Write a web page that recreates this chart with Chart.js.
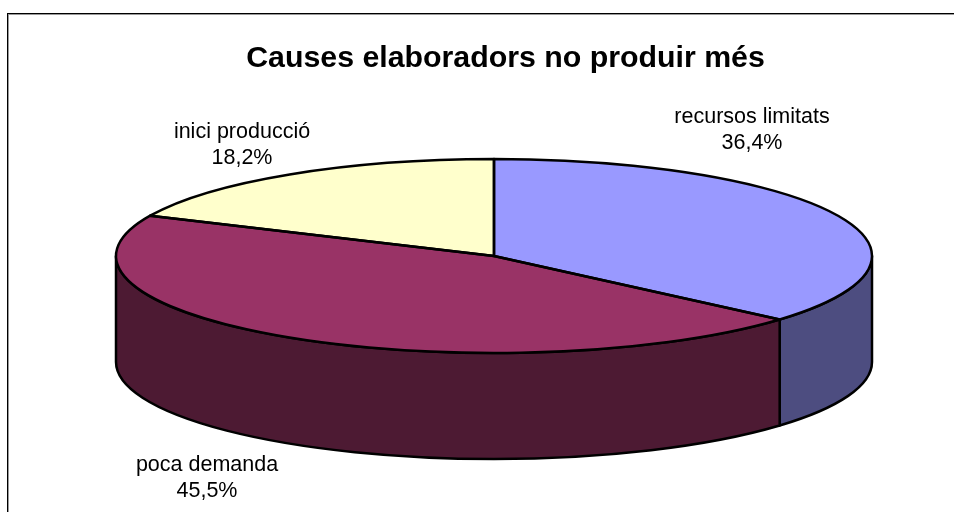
<!DOCTYPE html>
<html>
<head>
<meta charset="utf-8">
<style>
html,body{margin:0;padding:0;background:#fff;overflow:hidden}
#wrap{position:absolute;left:0;top:0;width:954px;height:512px}
</style>
<script src="https://cdn.jsdelivr.net/npm/chart.js@4/dist/chart.umd.min.js"></script>
</head>
<body>
<div id="wrap"><canvas id="c" width="954" height="512"></canvas></div>
<script>
const chartTitle = 'Causes elaboradors no produir més';
const categories = ['recursos limitats', 'poca demanda', 'inici producció'];
const shareValues = [36.4, 45.5, 18.2];
const shareLabels = ['36,4%', '45,5%', '18,2%'];

const topColors = ['#9999FF', '#993366', '#FFFFCC'];
const wallColors = ['#4D4D80', '#4D1A33', '#808066'];
const labelCenters = [[752, 130], [207, 478], [242, 145]];

const RX = 378, RY = 97, DEPTH = 106, CX = 494, CY = 256;
const FRAME_X = 7, FRAME_Y = 13;
const LINE = 2.5;

function ex(a){return CX + RX * Math.cos(a);}
function ey(a){return CY + RY * Math.sin(a);}

const pie3d = {
  id: 'pie3d',
  beforeDraw(chart){
    const g = chart.ctx;
    g.save();
    g.fillStyle = '#999';
    g.fillRect(FRAME_X + 1, FRAME_Y + 1, 954, 1);
    g.fillRect(FRAME_X + 1, FRAME_Y + 1, 1, 512);
    g.fillStyle = '#000';
    g.fillRect(FRAME_X, FRAME_Y, 954, 1);
    g.fillRect(FRAME_X, FRAME_Y, 1, 512);
    g.restore();
  },
  beforeDatasetsDraw(chart){
    const g = chart.ctx;
    const arcs = chart.getDatasetMeta(0).data;
    g.save();
    g.lineWidth = LINE;
    g.strokeStyle = '#000';
    g.lineJoin = 'round';
    arcs.forEach((arc, i) => {
      const s = Math.max(arc.startAngle, 0), e = Math.min(arc.endAngle, Math.PI);
      if (e <= s) return;
      g.beginPath();
      g.ellipse(CX, CY, RX, RY, 0, s, e);
      g.lineTo(ex(e), ey(e) + DEPTH);
      g.ellipse(CX, CY + DEPTH, RX, RY, 0, e, s, true);
      g.closePath();
      g.fillStyle = wallColors[i];
      g.fill();
      g.stroke();
    });
    g.restore();
    g.save();
    g.translate(0, CY);
    g.scale(1, RY / RX);
    g.translate(0, -CY);
  },
  afterDatasetsDraw(chart){
    const g = chart.ctx;
    g.restore();
    const arcs = chart.getDatasetMeta(0).data;
    g.save();
    g.lineWidth = LINE;
    g.strokeStyle = '#000';
    g.lineJoin = 'round';
    arcs.forEach(arc => {
      g.beginPath();
      g.moveTo(CX, CY);
      g.ellipse(CX, CY, RX, RY, 0, arc.startAngle, arc.endAngle);
      g.closePath();
      g.stroke();
    });
    g.fillStyle = '#000';
    g.font = '21.5px "Liberation Sans", Arial, sans-serif';
    g.textAlign = 'center';
    g.textBaseline = 'middle';
    categories.forEach((name, i) => {
      const [x, y] = labelCenters[i];
      g.fillText(name, x, y - 13);
      g.fillText(shareLabels[i], x, y + 13);
    });
    g.restore();
  }
};

new Chart(document.getElementById('c'), {
  type: 'pie',
  data: {
    labels: categories,
    datasets: [{
      data: shareValues,
      backgroundColor: topColors,
      borderWidth: 0,
      radius: RX
    }]
  },
  options: {
    responsive: false,
    animation: false,
    events: [],
    layout: { padding: { left: 2 * CX - 954, top: 2 * CY - 512 } },
    plugins: {
      legend: { display: false },
      tooltip: { enabled: false },
      title: { display: false }
    }
  },
  plugins: [pie3d, {
    id: 'heading',
    afterDraw(chart){
      const g = chart.ctx;
      g.save();
      g.fillStyle = '#000';
      g.font = 'bold 30.3px "Liberation Sans", Arial, sans-serif';
      g.textAlign = 'center';
      g.textBaseline = 'middle';
      g.fillText(chartTitle, 505.5, 59);
      g.restore();
    }
  }]
});
</script>
</body>
</html>
